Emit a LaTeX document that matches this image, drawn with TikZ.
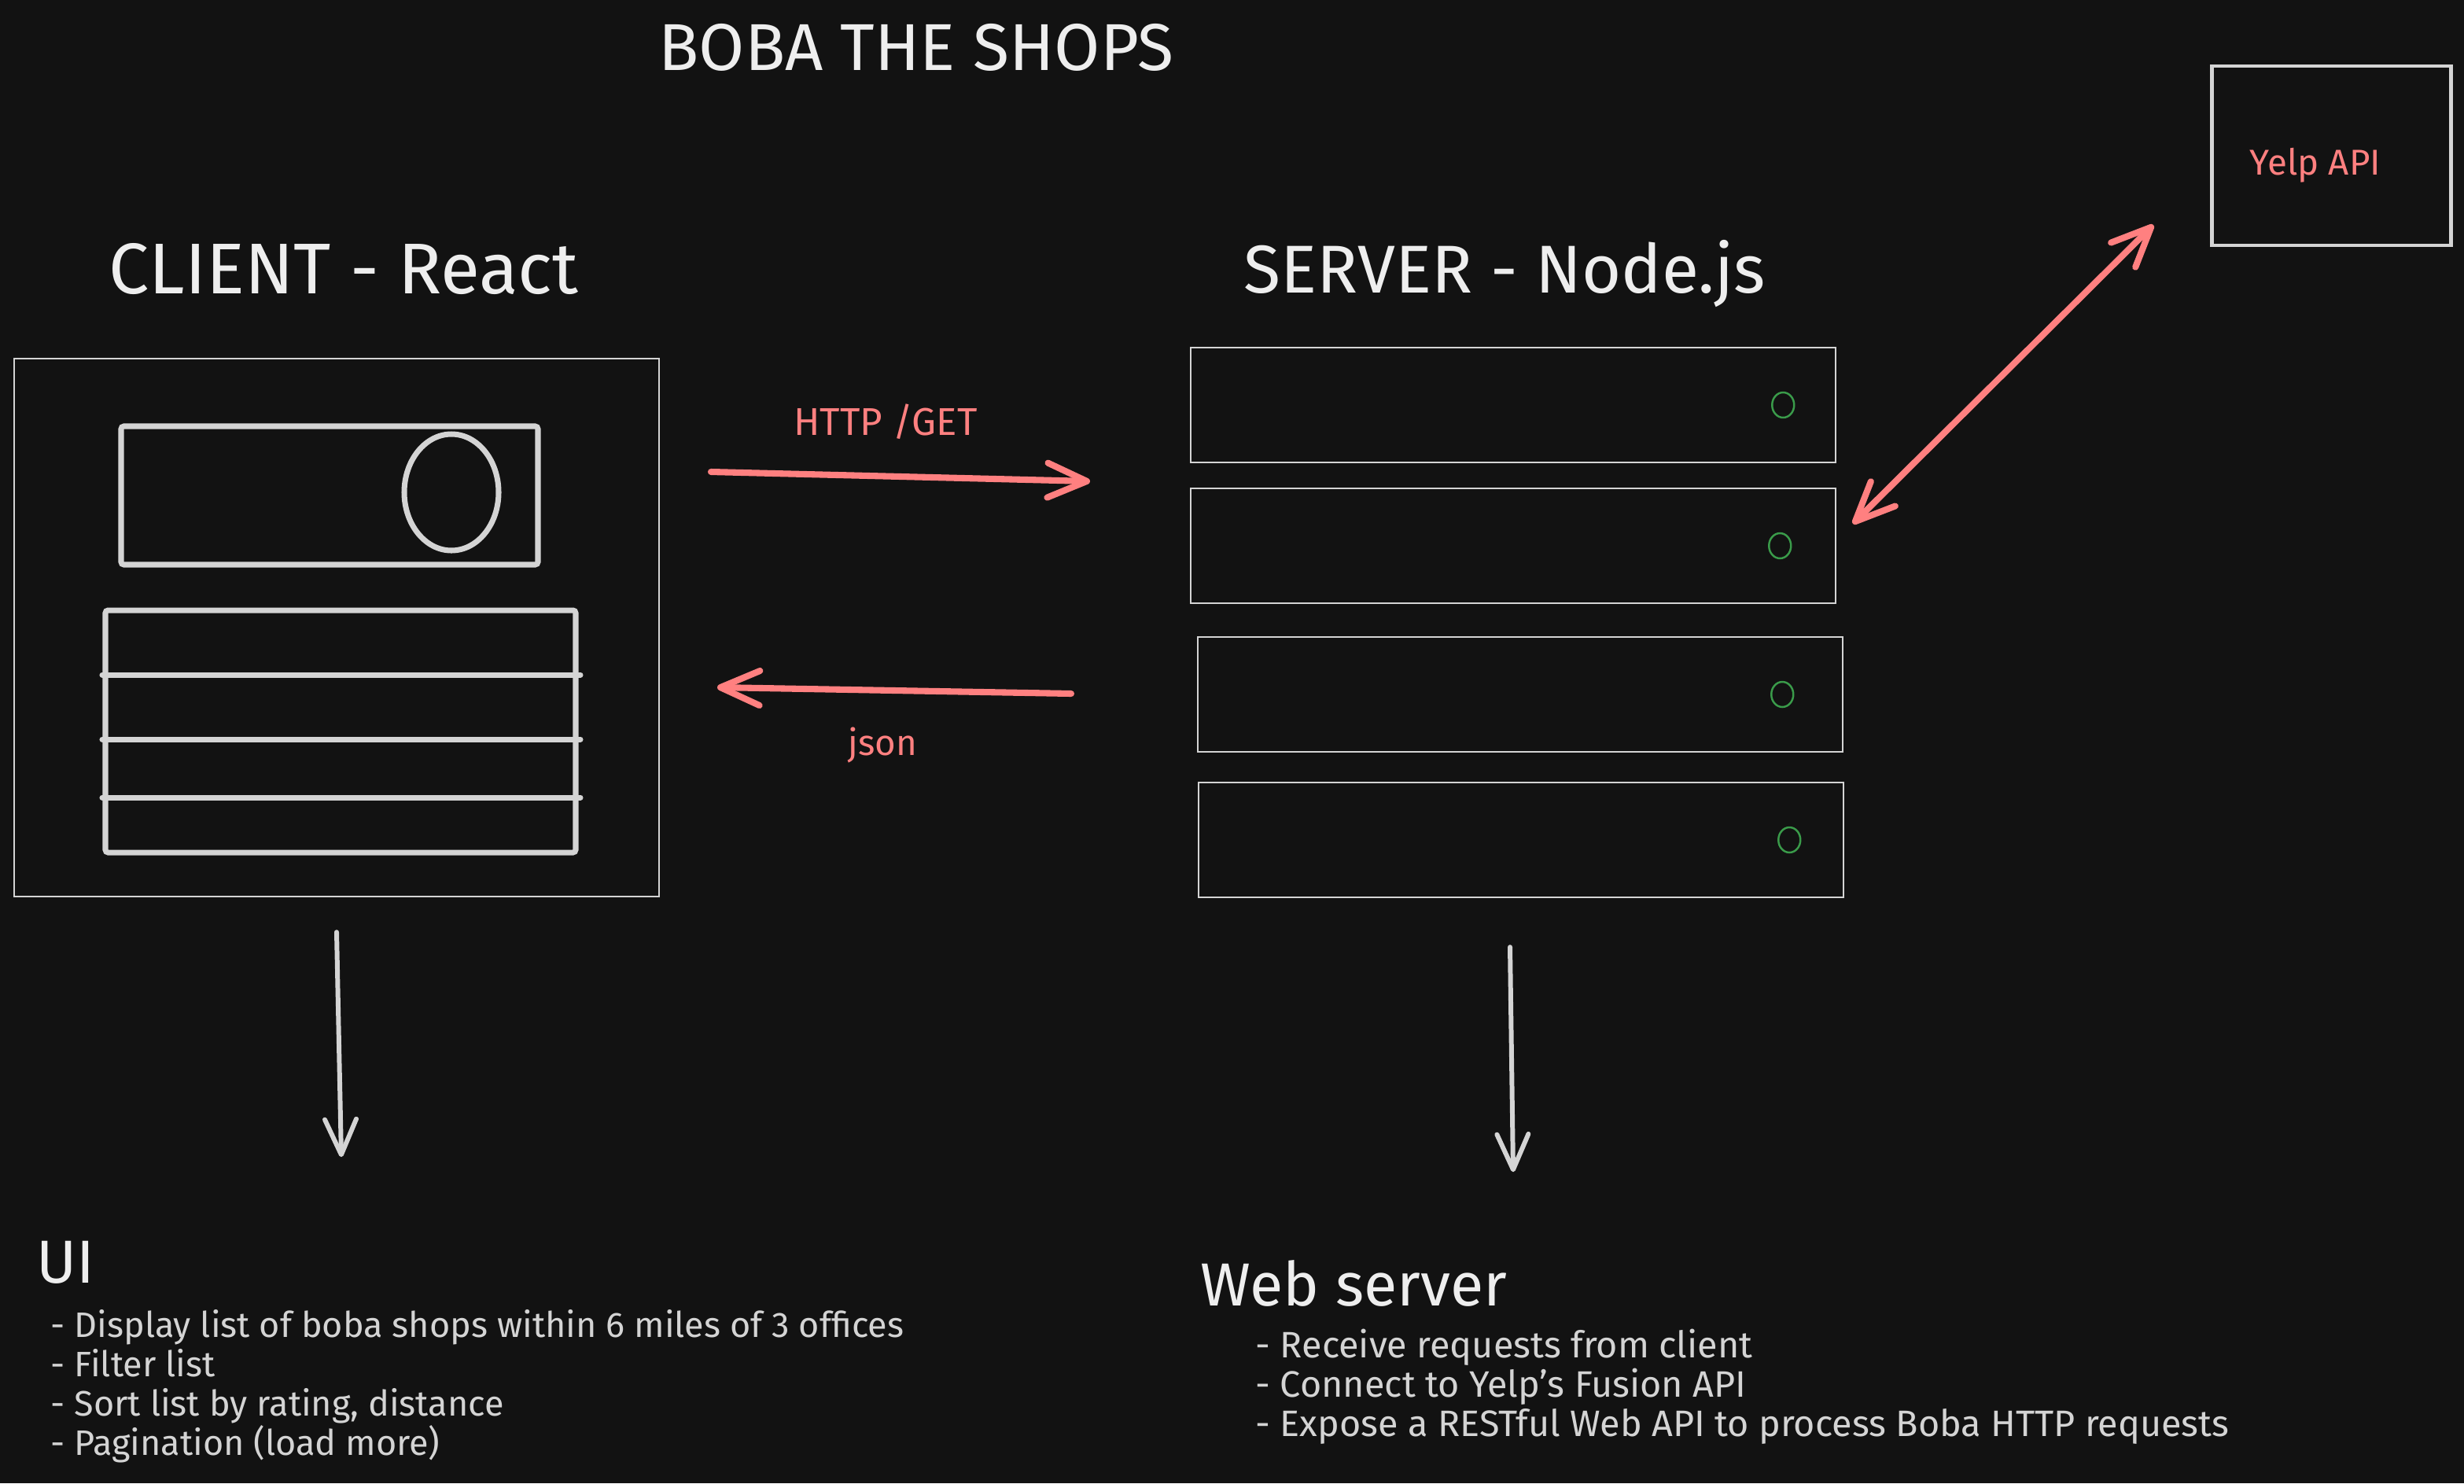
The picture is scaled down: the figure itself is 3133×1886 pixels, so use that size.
\documentclass[tikz,border=0pt]{standalone}
\usepackage{fontspec}
\setmainfont{Fira Sans}
\usetikzlibrary{arrows.meta,positioning,shapes.geometric}

\definecolor{canvas}{HTML}{121212}
\definecolor{chalk}{HTML}{D4D4D4}
\definecolor{paper}{HTML}{EEEEEE}
\definecolor{coral}{HTML}{FF8080}
\definecolor{ledgreen}{HTML}{3A9B4A}

\begin{document}
\begin{tikzpicture}[x=0.1mm,y=-0.1mm,
  thin box/.style={draw=chalk,line width=0.7pt,inner sep=0pt},
  thick box/.style={draw=chalk,line width=2pt,inner sep=0pt,rounded corners=1pt},
  rack/.style={thin box,minimum width=82mm,minimum height=14.6mm},
  led/.style={ellipse,draw=ledgreen,line width=0.7pt,minimum width=2.8mm,minimum height=3.2mm,inner sep=0pt},
  heading/.style={text=paper,font=\fontsize{24}{28}\selectfont},
  tag/.style={text=coral,font=\fontsize{13}{15}\selectfont},
  item/.style={text=chalk,anchor=base west,inner sep=0pt,font=\fontsize{12.8}{15}\selectfont},
  req/.style={draw=coral,line width=2.3pt,line cap=round,-{Straight Barb[length=5mm,width=4.4mm,round]}},
  link/.style={req,{Straight Barb[length=5mm,width=4.4mm,round]}-{Straight Barb[length=5mm,width=4.4mm,round]}},
  down/.style={draw=chalk,line width=1.7pt,line cap=round,-{Straight Barb[length=4.5mm,width=4mm,round]}}]

  % canvas
  \fill[canvas] (0,0) rectangle (3133,1886);

  % titles
  \node[heading] (title) at (1165,60) {BOBA THE SHOPS};
  \node[heading,font=\fontsize{26}{30}\selectfont] (client label) at (437,342) {CLIENT - React};
  \node[heading,font=\fontsize{24.5}{28}\selectfont] (server label) at (1913,348) {SERVER - Node.js};

  % client mockup
  \node[thin box,minimum width=82mm,minimum height=68.4mm] (client) at (428,798) {};
  \node[thick box,minimum width=53mm,minimum height=17.6mm] (search) at (419,630) {};
  \node[ellipse,draw=chalk,line width=2pt,minimum width=12mm,minimum height=14.8mm,inner sep=0pt] (avatar) at (574,626) {};
  \node[thick box,minimum width=59.8mm,minimum height=30.8mm] (shop list) at (433,930) {};
  \foreach \y in {858,940,1014}
    \draw[chalk,line width=2pt,line cap=round] (130,\y) -- (738,\y);

  % server racks
  \foreach \x/\y/\d [count=\i] in {1924/515/6.8, 1924/694/7.2, 1933/883/7.8, 1934/1068/7} {
    \node[rack] (rack\i) at (\x,\y) {};
    \node[led] (led\i) at ([xshift=-\d mm]rack\i.east) {};
  }

  % yelp
  \node[thin box,draw=chalk,line width=1.4pt,minimum width=30.4mm,minimum height=22.8mm] (yelp) at (2964,198) {};
  \node[tag] (yelp label) at (2944,210) {Yelp API};

  % requests
  \coordinate (get from) at (904,600);
  \coordinate (get to) at (1386,612);
  \coordinate (json from) at (1362,882);
  \coordinate (json to) at (912,874);
  \coordinate (api from) at (2356,666);
  \coordinate (api to) at (2738,286);
  \draw[req] (get from) -- (get to);
  \draw[req] (json from) -- (json to);
  \draw[link] (api from) -- (api to);
  \node[tag,font=\fontsize{14}{16}\selectfont] (get label) at (1126,536) {HTTP /GET};
  \node[tag] (json label) at (1122,948) {json};

  % notes
  \draw[down] ([yshift=-4.4mm]client.south) -- ([xshift=0.6mm,yshift=-33mm]client.south);
  \draw[down] ([xshift=-1.4mm,yshift=-6.2mm]rack4.south) -- ([xshift=-1mm,yshift=-34.8mm]rack4.south);

  \node[heading,font=\fontsize{22}{26}\selectfont,anchor=west,inner sep=0pt] (ui) at (46,1605) {UI};
  \foreach \txt [count=\i] in {Display list of boba shops within 6 miles of 3 offices, Filter list, {Sort list by rating, distance}, Pagination (load more)}
    \node[item] (ui item\i) at (64,{1700+50*(\i-1)}) {- \txt};

  \node[heading,font=\fontsize{22}{26}\selectfont,anchor=west,inner sep=0pt] (web) at (1526,1632) {Web server};
  \foreach \txt [count=\i] in {Receive requests from client, Connect to Yelp's Fusion API, Expose a RESTful Web API to process Boba HTTP requests}
    \node[item,font=\fontsize{13.3}{15}\selectfont] (web item\i) at (1596,{1726+50*(\i-1)}) {- \txt};
\end{tikzpicture}
\end{document}
